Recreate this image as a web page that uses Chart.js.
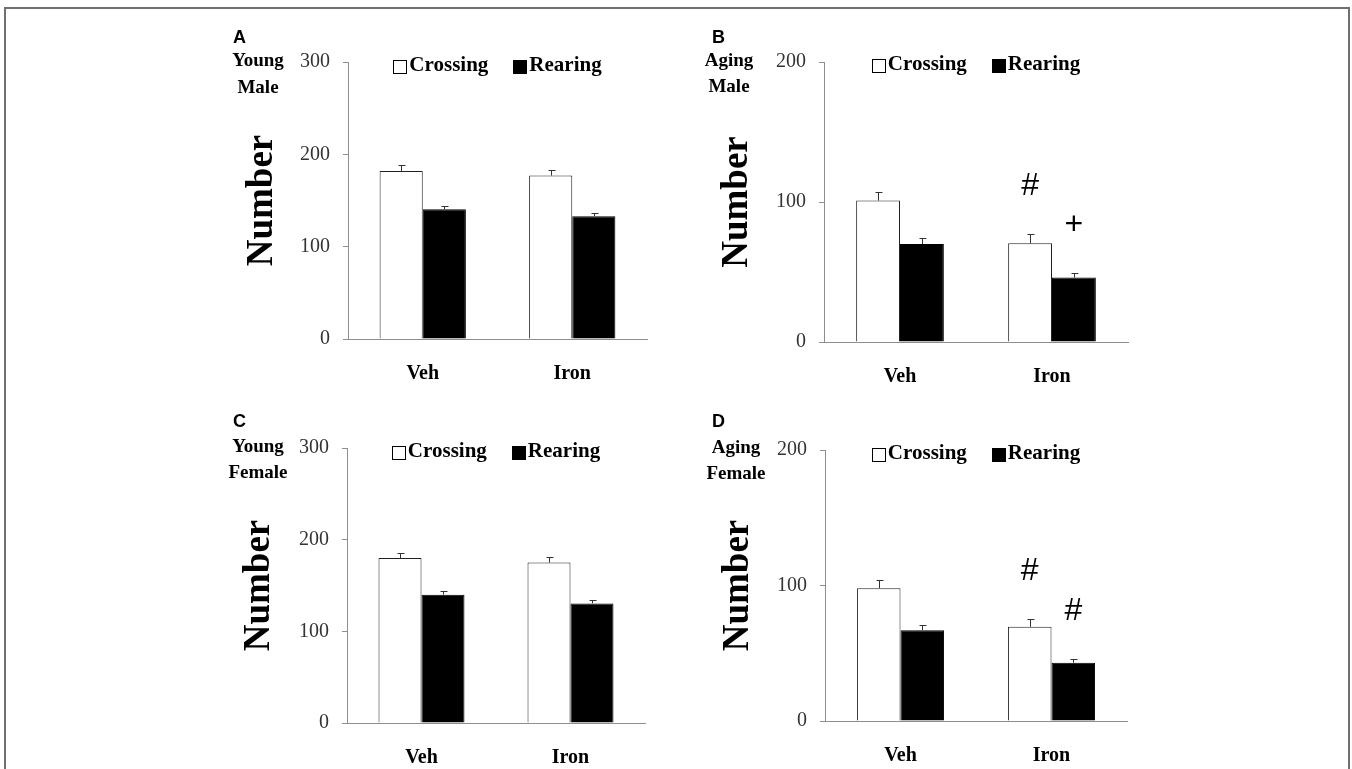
<!DOCTYPE html>
<html><head><meta charset="utf-8">
<script src="https://cdn.jsdelivr.net/npm/chart.js@4.4.1/dist/chart.umd.min.js"></script>
<style>
html,body{margin:0;padding:0;background:#fff;width:1352px;height:769px;overflow:hidden;position:relative;}
#frame{position:absolute;left:4px;top:7px;width:1342px;height:820px;border:2px solid #707070;}
canvas{position:absolute;}
</style></head><body>
<div id="frame"></div>
<canvas id="cA"></canvas>
<canvas id="cB"></canvas>
<canvas id="cC"></canvas>
<canvas id="cD"></canvas>
<script>
// ---- data ----
const categories = ['Veh', 'Iron'];
const seriesNames = ['Crossing', 'Rearing'];
const youngMaleCrossing = [182, 177];
const youngMaleCrossingErr = [6, 6];
const youngMaleRearing = [140.5, 133];
const youngMaleRearingErr = [3.5, 4];
const agingMaleCrossing = [101, 70.5];
const agingMaleCrossingErr = [6, 7];
const agingMaleRearing = [70, 46];
const agingMaleRearingErr = [4, 3];
const youngFemaleCrossing = [180, 175];
const youngFemaleCrossingErr = [5, 6.5];
const youngFemaleRearing = [140, 130.5];
const youngFemaleRearingErr = [4.5, 3.5];
const agingFemaleCrossing = [98, 69.5];
const agingFemaleCrossingErr = [6, 5.5];
const agingFemaleRearing = [67, 43];
const agingFemaleRearingErr = [4, 3];
const youngTicks = [0, 100, 200, 300];
const agingTicks = [0, 100, 200];
const noMarks = ['', ''];
const agingMaleMarksCrossing = ['', '#'];
const agingMaleMarksRearing = ['', '+'];
const agingFemaleMarksCrossing = ['', '#'];
const agingFemaleMarksRearing = ['', '#'];
const yTitle = 'Number';

// ---- layout (page coordinates) ----
const LAYOUT = {
  A: {canvas:[200,10,460,380], area:[348,62,647,339], titleX:262, letter:['A',233,38], group:[['Young',258,61],['Male',258,88]], legendY:66},
  B: {canvas:[680,10,460,380], area:[824,62,1128,342], titleX:737, letter:['B',712,38], group:[['Aging',729,61],['Male',729,87]], legendY:65},
  C: {canvas:[200,395,460,374], area:[347,448,645,723], titleX:259, letter:['C',233,422], group:[['Young',258,447],['Female',258,473]], legendY:452},
  D: {canvas:[680,395,460,374], area:[825,450,1127,721], titleX:738, letter:['D',712,422], group:[['Aging',736,448],['Female',736,474]], legendY:454}
};
const AXIS = '#8e8e8e';
const SERIF = "'Liberation Serif', 'Times New Roman', serif";
const SANS = "'Liberation Sans', Arial, sans-serif";

function build(key, crossing, crossingErr, rearing, rearingErr, ticks, marksC, marksR) {
  const L = LAYOUT[key];
  const [cx, cy, cw, ch] = L.canvas;
  const [al, at, ar, ab] = L.area;
  const canvas = document.getElementById('c' + key);
  canvas.width = cw; canvas.height = ch;
  canvas.style.left = cx + 'px'; canvas.style.top = cy + 'px';
  const TITLE_SIZE = 37;
  const scaleLeft = L.titleX - TITLE_SIZE / 2;
  const yW = al - scaleLeft;
  const XH = 40;
  const pad = {left: scaleLeft - cx, top: at - cy, right: cx + cw - ar, bottom: cy + ch - ab - XH};
  const errs = [crossingErr, rearingErr];
  const marks = [marksC, marksR];

  const deco = {
    id: 'deco' + key,
    afterDatasetsDraw(chart) {
      const ctx = chart.ctx, ys = chart.scales.y;
      ctx.save();
      ctx.strokeStyle = '#333'; ctx.lineWidth = 1;
      chart.data.datasets.forEach((ds, i) => {
        chart.getDatasetMeta(i).data.forEach((bar, j) => {
          const x = Math.round(bar.x) + 0.5;
          const top = Math.round(ys.getPixelForValue(ds.data[j] + errs[i][j])) + 0.5;
          ctx.beginPath();
          ctx.moveTo(x, bar.y); ctx.lineTo(x, top);
          ctx.moveTo(x - 3, top); ctx.lineTo(x + 4, top);
          ctx.stroke();
          if (marks[i][j]) {
            ctx.fillStyle = '#000';
            ctx.font = '32px ' + SANS;
            ctx.textAlign = 'center'; ctx.textBaseline = 'middle';
            ctx.fillText(marks[i][j], bar.x, top - 48);
          }
        });
      });
      ctx.restore();
    },
    afterDraw(chart) {
      const ctx = chart.ctx, a = chart.chartArea;
      ctx.save();
      // panel letter
      ctx.fillStyle = '#000';
      ctx.font = 'bold 18px ' + SANS;
      ctx.textAlign = 'left'; ctx.textBaseline = 'middle';
      ctx.fillText(L.letter[0], L.letter[1] - cx, L.letter[2] - cy);
      // group label
      ctx.font = 'bold 19px ' + SERIF;
      ctx.textAlign = 'center';
      L.group.forEach(g => ctx.fillText(g[0], g[1] - cx, g[2] - cy));
      // legend
      ctx.font = 'bold 21px ' + SERIF;
      const box = 13, gap = 3, itemGap = 25;
      const names = chart.data.datasets.map(d => d.label);
      const widths = names.map(n => ctx.measureText(n).width);
      const total = widths.reduce((s, w) => s + box + gap + w, 0) + itemGap * (names.length - 1);
      let x = (a.left + a.right) / 2 - total / 2;
      const y = L.legendY - cy;
      ctx.textAlign = 'left';
      chart.data.datasets.forEach((d, i) => {
        ctx.fillStyle = d.backgroundColor;
        ctx.fillRect(Math.round(x) + 0.5, Math.round(y - box / 2) + 0.5, box, box);
        ctx.strokeStyle = '#000'; ctx.lineWidth = 1;
        ctx.strokeRect(Math.round(x) + 0.5, Math.round(y - box / 2) + 0.5, box, box);
        ctx.fillStyle = '#000';
        ctx.fillText(names[i], x + box + gap, y);
        x += box + gap + widths[i] + itemGap;
      });
      ctx.restore();
    }
  };

  new Chart(canvas, {
    type: 'bar',
    data: {
      labels: categories,
      datasets: [
        {label: seriesNames[0], data: crossing, backgroundColor: '#ffffff', borderColor: '#222', borderWidth: 1, categoryPercentage: 0.577, barPercentage: 1},
        {label: seriesNames[1], data: rearing, backgroundColor: '#000000', borderColor: '#000', borderWidth: 1, categoryPercentage: 0.577, barPercentage: 1}
      ]
    },
    options: {
      responsive: false, animation: false, devicePixelRatio: 1,
      layout: {padding: pad},
      plugins: {legend: {display: false}, tooltip: {enabled: false}},
      scales: {
        x: {
          grid: {display: false, drawTicks: false},
          border: {display: true, color: AXIS, width: 1},
          ticks: {font: {family: SERIF, size: 20, weight: 'bold'}, color: '#000', padding: 23},
          afterFit(s) { s.height = XH; }
        },
        y: {
          min: 0, max: ticks[ticks.length - 1],
          afterBuildTicks(s) { s.ticks = ticks.map(v => ({value: v})); },
          grid: {drawOnChartArea: false, drawTicks: true, tickLength: 5, color: AXIS},
          border: {display: true, color: AXIS, width: 1},
          ticks: {font: {family: SERIF, size: 20}, color: '#333', padding: 13},
          title: {display: true, text: yTitle, font: {family: SERIF, size: TITLE_SIZE, weight: 'bold', lineHeight: 1}, color: '#000', padding: 0},
          afterFit(s) { s.width = yW; }
        }
      }
    },
    plugins: [deco]
  });
}

build('A', youngMaleCrossing, youngMaleCrossingErr, youngMaleRearing, youngMaleRearingErr, youngTicks, noMarks, noMarks);
build('B', agingMaleCrossing, agingMaleCrossingErr, agingMaleRearing, agingMaleRearingErr, agingTicks, agingMaleMarksCrossing, agingMaleMarksRearing);
build('C', youngFemaleCrossing, youngFemaleCrossingErr, youngFemaleRearing, youngFemaleRearingErr, youngTicks, noMarks, noMarks);
build('D', agingFemaleCrossing, agingFemaleCrossingErr, agingFemaleRearing, agingFemaleRearingErr, agingTicks, agingFemaleMarksCrossing, agingFemaleMarksRearing);
</script>
</body></html>
